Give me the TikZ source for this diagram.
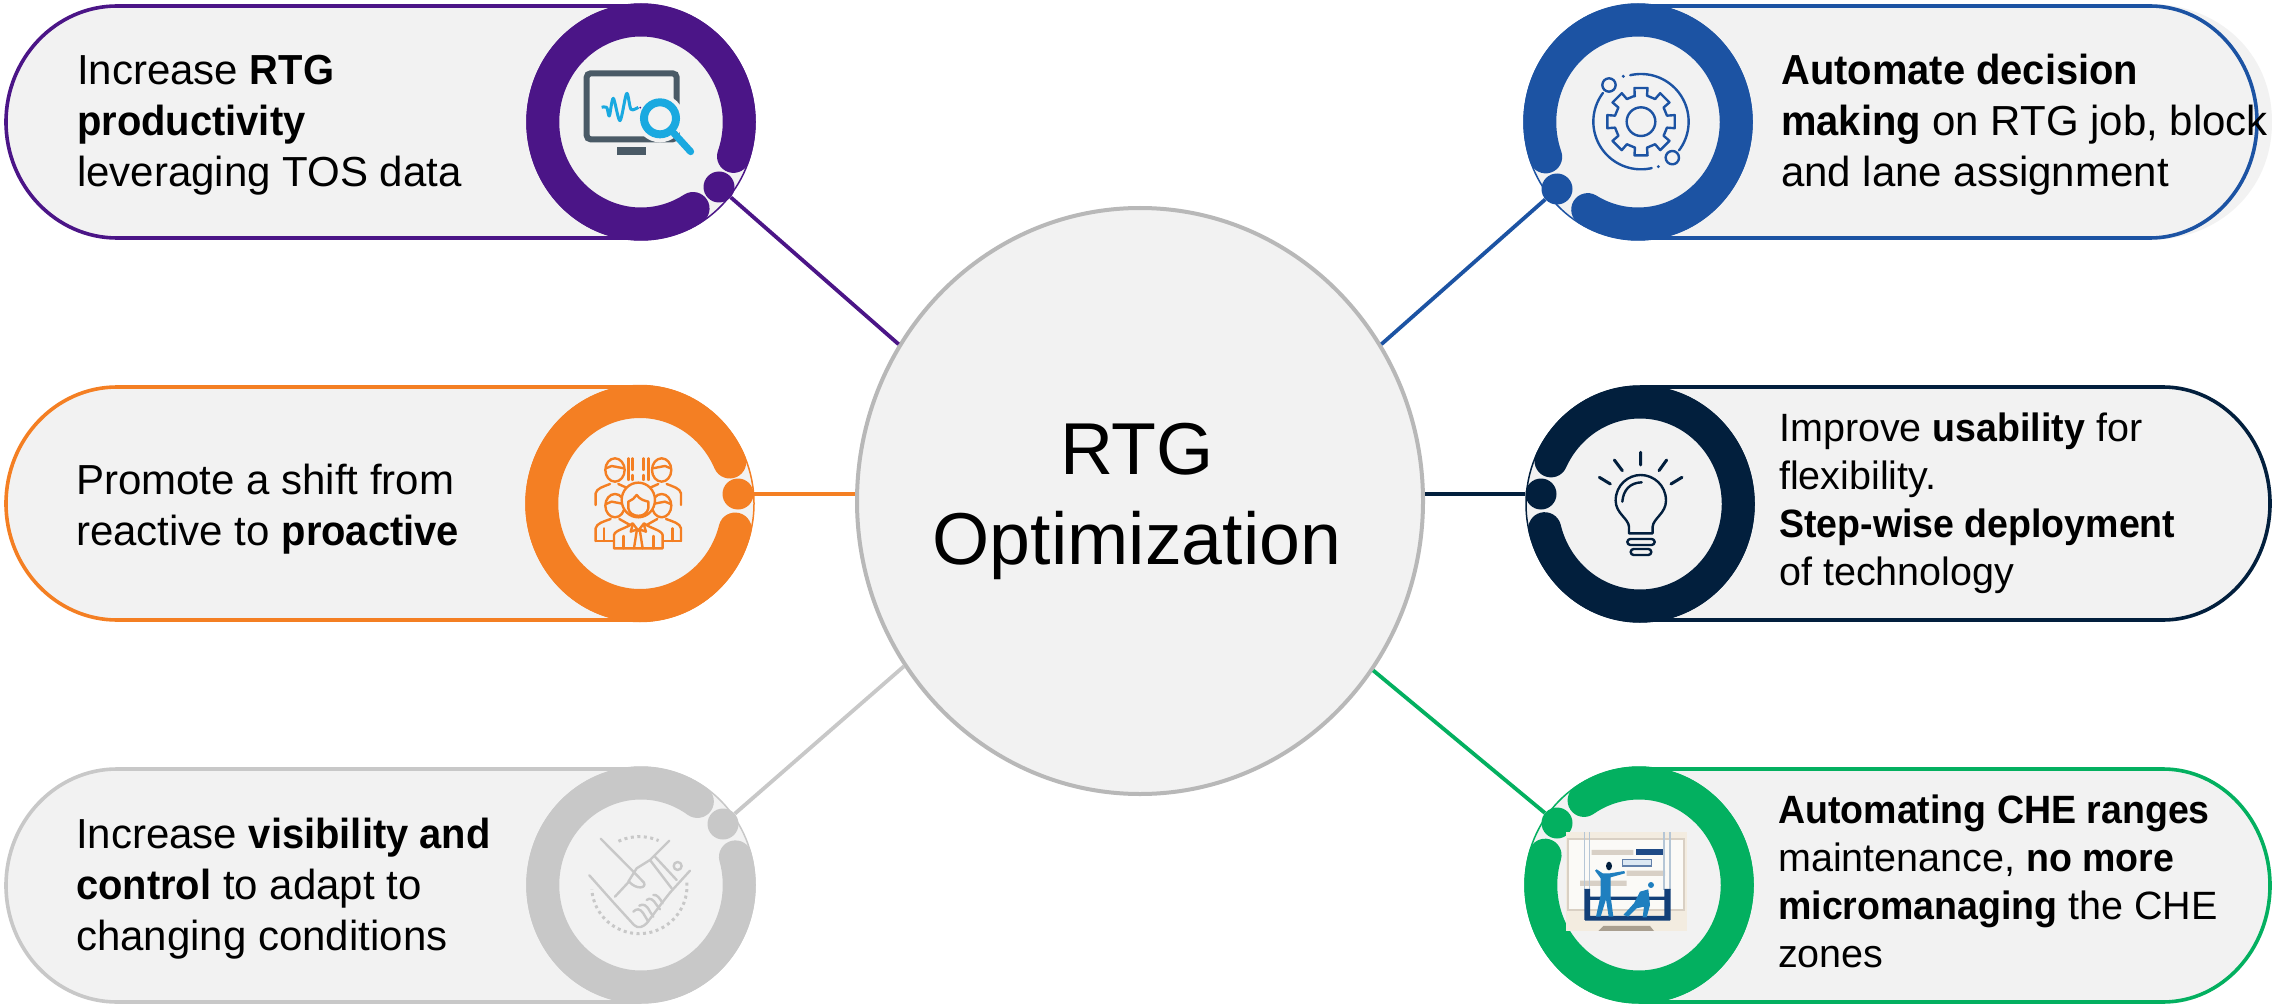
\documentclass[tikz,border=0pt]{standalone}
\usepackage{fontspec}
\usetikzlibrary{shapes.geometric}
\setmainfont{Liberation Sans}[BoldFeatures={FakeStretch=0.95}]
\newfontfamily\hubfont{Liberation Sans}
\definecolor{cpurple}{HTML}{4B1587}
\definecolor{corange}{HTML}{F47F23}
\definecolor{cgray}{HTML}{C8C8C8}
\definecolor{cblue}{HTML}{1C53A3}
\definecolor{cnavy}{HTML}{021F3D}
\definecolor{cgreen}{HTML}{03B060}
\definecolor{cfill}{HTML}{F2F2F2}
\definecolor{cslate}{HTML}{4A5A66}
\definecolor{ccyan}{HTML}{1AA9E0}
\definecolor{scCream}{HTML}{F3ECE0}
\definecolor{scFrame}{HTML}{D9D0C4}
\definecolor{scInner}{HTML}{FBFAF7}
\definecolor{scBar}{HTML}{D8D0C6}
\definecolor{scNavy}{HTML}{1F4A86}
\definecolor{scFig}{HTML}{1F7FBF}
\definecolor{scRail}{HTML}{123F78}
\definecolor{scBase}{HTML}{A99F90}
\definecolor{scRope}{HTML}{B5C6D6}
\definecolor{scTag}{HTML}{DCE8F3}
\tikzset{
  pillline/.style={line width=3.6pt,fill=cfill},
  dotnode/.style={circle,minimum size=31pt,inner sep=0pt},
  linkline/.style={line width=3.8pt},
  ringarc/.style={line width=33pt,line cap=round},
  label3/.style={anchor=base west,align=left,inner sep=0pt,font=\fontsize{42}{51}\selectfont},
  label4/.style={anchor=base west,align=left,inner sep=0pt,font=\fontsize{39.5}{48}\selectfont},
  hubtext/.style={anchor=base,inner sep=0pt,font=\hubfont\fontsize{73.5}{90}\selectfont},
  icon/.style={line width=2.4pt,line cap=round,line join=round},
  zoomed/.style={x=0.3333pt,y=-0.3333pt}
}
% left pill: colour, top, centre, bottom, centre x of ring
\newcommand{\leftpill}[5]{%
  \draw[pillline,draw=#1] (#5,#2) -- (117,#2) .. controls (55.7,#2) and (6,#2+52.4) .. (6,#3)
    .. controls (6,#4-52.4) and (55.7,#4) .. (117,#4) -- (#5,#4);}
% right pill: colour, top, centre, bottom, ring x, straight end, control x, extreme x
\newcommand{\rightpill}[8]{%
  \draw[pillline,draw=#1] (#5,#2) -- (#6,#2) .. controls (#7,#2) and (#8,#2+52.4) .. (#8,#3)
    .. controls (#8,#4-52.4) and (#7,#4) .. (#6,#4) -- (#5,#4);}
% disc, thin outer line, thick broken ring: colour, cx, cy, from, to
\newcommand{\ringat}[5]{%
  \fill[cfill] (#2,#3) ellipse[x radius=114pt,y radius=118pt];
  \draw[#1,line width=1.5pt] (#2,#3) ellipse[x radius=114pt,y radius=118pt];
  \draw[ringarc,#1] plot[smooth,domain=#4:#5,samples=90] ({#2+98.25*cos(\x)},{#3+102*sin(\x)});}
\begin{document}
\begin{tikzpicture}[x=1pt,y=-1pt]
\useasboundingbox (0,0) rectangle (2272,1008);
\fill[white] (0,0) rectangle (2272,1008);

% pills
\leftpill{cpurple}{6}{122}{238}{641}
\leftpill{corange}{387}{503.5}{620}{640}
\leftpill{cgray}{769}{885.5}{1002}{641}
\fill[cfill] (2150,4) .. controls (2217,4) and (2272,52) .. (2272,122) .. controls (2272,192) and (2217,240) .. (2150,240) -- cycle;
\rightpill{cblue}{6}{122}{238}{1638}{2150}{2209}{2257}
\rightpill{cnavy}{387}{503.5}{620}{1640}{2163}{2222}{2270}
\rightpill{cgreen}{769}{885.5}{1002}{1639}{2163}{2222}{2270}

% rings
\ringat{cpurple}{641}{122}{58}{379.7}
\ringat{corange}{640}{503.5}{14.5}{336}
\ringat{cgray}{641}{885}{-16}{305}
\ringat{cblue}{1638}{122}{160}{480.8}
\ringat{cnavy}{1640}{504}{205}{526}
\ringat{cgreen}{1639}{885}{236}{557}

% dots
\node[dotnode,fill=cpurple] (d1) at (719,187) {};
\node[dotnode,fill=corange] (d2) at (738,494) {};
\node[dotnode,fill=cgray]   (d3) at (723,824) {};
\node[dotnode,fill=cblue]   (d4) at (1557,189) {};
\node[dotnode,fill=cnavy]   (d5) at (1541,494) {};
\node[dotnode,fill=cgreen]  (d6) at (1557,823) {};

% hub
\node[ellipse,draw=black!28,line width=4pt,fill=cfill,minimum width=566pt,minimum height=586pt,inner sep=0pt] (hub) at (1140,501) {};
\node[hubtext] (hubtitle) at (1137,474) {RTG};
\node[hubtext] (hubsub) at (1137,564) {Optimization};

% connectors
\draw[linkline,cpurple] (d1) -- (hub.147);
\draw[linkline,corange] (d2) -- (d2 -| hub.west);
\draw[linkline,cgray]   (d3) -- (hub.215);
\draw[linkline,cblue]   (d4) -- (hub.33.5);
\draw[linkline,cnavy]   (d5) -- (d5 -| hub.east);
\draw[linkline,cgreen]  (d6) -- (hub.324.5);

% labels (the anchor is the baseline of the last line)
\node[label3] (t1) at (77,187) {Increase \textbf{RTG}\\\textbf{productivity}\\leveraging TOS data};
\node[label3] (t2) at (76,545) {Promote a shift from\\reactive to \textbf{proactive}};
\node[label3] (t3) at (76,950) {Increase \textbf{visibility and}\\\textbf{control} to adapt to\\changing conditions};
\node[label3] (t4) at (1781,187) {\textbf{Automate decision}\\\textbf{making} on RTG job, block\\and lane assignment};
\node[label4] (t5) at (1779,585) {Improve \textbf{usability} for\\flexibility.\\\textbf{Step-wise deployment}\\of technology};
\node[label4] (t6) at (1778,967) {\textbf{Automating CHE ranges}\\maintenance, \textbf{no more}\\\textbf{micromanaging} the CHE\\zones};

% icon 1: monitor and magnifier
\begin{scope}[shift={(570,50)},zoomed]
  \draw[cslate,line width=6pt,rounded corners=4pt] (50,70) rectangle (320,268);
  \fill[cslate] (142,292) rectangle (228,315);
  \fill[cfill] (270,205) circle[radius=72];
  \draw[ccyan,line width=3pt,line join=round] plot[smooth,tension=.5] coordinates {(95,172) (110,172) (118,198) (130,145) (150,212) (170,130) (183,178) (205,172)};
  \fill[cpurple] (211,173) circle[radius=3];
  \draw[ccyan,line width=8pt] (270,205) circle[radius=48];
  \draw[ccyan,line width=7pt,line cap=round] (312,250) -- (362,305);
\end{scope}

% icon 2: team
\begin{scope}[shift={(480,360)},zoomed,icon,corange]
  \draw (347,435) -- (347,400) .. controls (350,385) and (370,380) .. (390,372) (415,372) .. controls (425,378) and (435,380) .. (445,385);
  \draw (603,435) -- (603,400) .. controls (600,385) and (580,380) .. (560,372) (535,372) .. controls (525,378) and (515,380) .. (505,385);
  \draw (405,330) ellipse[x radius=29,y radius=35];
  \draw (545,330) ellipse[x radius=29,y radius=35];
  \draw (378,325) -- (395,318) -- (432,325) (518,325) -- (555,318) -- (572,325);
  \draw (445,295) -- (445,360) (458,295) -- (458,330) (458,345) -- (458,360);
  \draw (505,295) -- (505,360) (490,295) -- (490,330) (490,345) -- (490,360);
  \draw[fill=cfill] (405,437) ellipse[x radius=29,y radius=35];
  \draw[fill=cfill] (545,437) ellipse[x radius=29,y radius=35];
  \draw (378,432) -- (395,425) -- (432,432) (518,432) -- (555,425) -- (572,432);
  \draw (347,543) -- (347,505) .. controls (350,490) and (370,485) .. (392,477) (418,477) -- (450,495);
  \draw (603,543) -- (603,505) .. controls (600,490) and (580,485) .. (558,477) (532,477) -- (500,495);
  \draw (347,543) -- (402,543) (548,543) -- (603,543) (372,543) -- (372,505) (578,543) -- (578,505);
  \draw[fill=cfill] (475,420) ellipse[x radius=50,y radius=52];
  \draw[fill=cfill] (445,425) .. controls (455,420) and (465,415) .. (470,405) .. controls (480,420) and (495,422) .. (505,425) -- (505,445) .. controls (500,475) and (450,475) .. (445,445) -- cycle;
  \draw[fill=cfill] (402,565) -- (402,525) .. controls (405,510) and (440,505) .. (458,490) -- (475,512) -- (492,490) .. controls (510,505) and (545,510) .. (548,525) -- (548,565) -- cycle;
  \draw (430,565) -- (430,528) (520,565) -- (520,528);
  \draw (458,495) -- (452,515) -- (472,508) (492,495) -- (498,515) -- (478,508);
  \draw (470,514) -- (462,565) (480,514) -- (488,565);
\end{scope}

% icon 3: handshake
\begin{scope}[shift={(480,740)},zoomed,icon,cgray]
  \draw[line width=3pt,dash pattern=on 3pt off 3.5pt,line cap=butt] plot[domain=-4:176,samples=60] ({478+143*cos(\x)},{438+143*sin(\x)});
  \draw[line width=3pt,dash pattern=on 3pt off 3.5pt,line cap=butt] plot[domain=245:293,samples=20] ({478+148*cos(\x)},{438+148*sin(\x)});
  \draw (362,296) -- (470,405) -- (492,428) .. controls (500,445) and (470,450) .. (447,425) -- (405,470);
  \draw (328,406) -- (400,487) -- (462,555) .. controls (475,568) and (490,560) .. (500,550) -- (545,490) -- (570,458) -- (630,392);
  \draw (568,302) -- (510,360) -- (470,385) -- (445,425);
  \draw (510,360) -- (575,445) (525,350) -- (590,420);
  \draw (593,378) circle[radius=12];
  \draw (460,515) .. controls (470,505) and (480,505) .. (490,520) -- (505,545);
  \draw (478,497) .. controls (490,490) and (500,495) .. (510,515) -- (520,530);
  \draw (500,480) .. controls (510,472) and (520,478) .. (530,495) -- (540,508);
  \draw (520,465) .. controls (530,462) and (540,475) .. (548,490);
\end{scope}

% icon 4: gear and orbit
\begin{scope}[shift={(1480,0)},zoomed,icon,cblue]
  \draw (483,365) circle[radius=43];
  \draw ({483+78*cos(-104)},{365+78*sin(-104)})
    \foreach \a in {-90,-45,0,45,90,135,180,225} {
      -- ({483+103*cos(\a-11)},{365+103*sin(\a-11)})
      -- ({483+103*cos(\a+11)},{365+103*sin(\a+11)})
      -- ({483+80*cos(\a+13)},{365+80*sin(\a+13)})
      -- ({483+80*cos(\a+32)},{365+80*sin(\a+32)})
    } -- cycle;
  \draw plot[smooth,domain=-103:37,samples=40] ({483+143*cos(\x)},{365+143*sin(\x)});
  \draw plot[smooth,domain=77:217,samples=40] ({483+143*cos(\x)},{365+143*sin(\x)});
  \draw (387,255) circle[radius=20];
  \draw (577,473) circle[radius=20];
  \fill (430,229) circle[radius=5];
  \fill (535,500) circle[radius=5];
\end{scope}

% icon 5: bulb
\begin{scope}[shift={(1480,370)},zoomed,icon,cnavy]
  \draw (447,490) -- (447,470) .. controls (445,445) and (407,430) .. (407,392) .. controls (407,345) and (445,315) .. (482,315)
    .. controls (520,315) and (558,345) .. (558,392) .. controls (558,430) and (520,445) .. (518,470) -- (518,490) -- cycle;
  \draw (427,395) .. controls (430,360) and (450,338) .. (485,337);
  \draw[rounded corners=3pt] (442,507) rectangle (524,525);
  \draw[rounded corners=3pt] (452,537) rectangle (514,555);
  \draw[line width=3pt] (482,285) -- (482,247) (427,302) -- (403,270) (537,302) -- (560,270) (391,342) -- (358,322) (573,342) -- (606,322);
\end{scope}

% icon 6: maintenance scene
\begin{scope}[shift={(1480,740)},zoomed]
  \fill[scCream] (258,277) rectangle (621,573);
  \draw[line width=2.2pt,draw=scFrame,fill=scInner] (265,298) rectangle (612,510);
  \fill[scBar] (335,330) rectangle (460,345) (440,392) rectangle (555,408) (300,422) rectangle (440,438);
  \fill[scNavy] (468,327) rectangle (548,345);
  \draw[line width=1.6pt,draw=scNavy!70!white,fill=scTag] (428,358) rectangle (515,378);
  \draw[line width=1.2pt,scRope] (313,277) -- (313,450) (328,277) -- (328,450) (552,277) -- (552,450) (570,277) -- (570,450);
  \fill[scBase] (355,573) -- (370,558) -- (510,558) -- (522,573) -- cycle;
  \fill[scRail] (313,447) rectangle (330,540) (553,447) rectangle (572,540) (320,470) rectangle (565,480) (315,528) rectangle (570,542);
  \fill[scFig] (368,400) -- (390,400) -- (433,393) -- (435,400) -- (392,412) -- (392,470) -- (400,530) -- (386,530) -- (378,478) -- (362,530) -- (348,530) -- (362,465) -- (362,415) -- (345,392) -- (350,388) -- cycle;
  \fill[cnavy] (387,378) ellipse[x radius=9,y radius=13];
  \fill[scFig] (480,455) -- (505,448) -- (510,495) -- (500,532) -- (488,532) -- (492,500) -- (470,505) -- (445,530) -- (430,525) -- (462,490) -- cycle;
  \fill[scFig] (513,435) circle[radius=9];
\end{scope}
\end{tikzpicture}
\end{document}
